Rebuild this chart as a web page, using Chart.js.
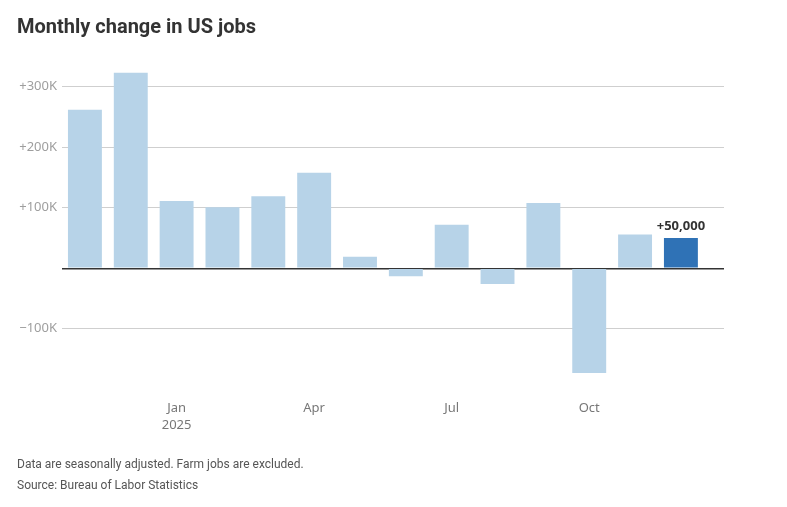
<!DOCTYPE html>
<html><head><meta charset="utf-8">
<script src="https://cdn.jsdelivr.net/npm/chart.js@4"></script>
<style>
html,body{margin:0;padding:0;background:#fff;}
#wrap{position:relative;width:787px;height:507px;overflow:hidden;font-family:Roboto,sans-serif;}
#title{position:absolute;left:17px;top:15.5px;font-size:20px;line-height:20px;font-weight:700;color:#333;white-space:nowrap;}
.note{position:absolute;left:17px;font-size:12px;line-height:12px;color:#555;white-space:nowrap;}
canvas{position:absolute;left:0;top:0;}
</style></head><body>
<div id="wrap">
<canvas id="c" width="787" height="507"></canvas>
<div id="title">Monthly change in US jobs</div>
<div class="note" style="top:458.2px">Data are seasonally adjusted. Farm jobs are excluded.</div>
<div class="note" style="top:478.6px">Source: Bureau of Labor Statistics</div>
</div>
<script>
// Data
const months = ['Nov 2024','Dec 2024','Jan 2025','Feb 2025','Mar 2025','Apr 2025','May 2025','Jun 2025','Jul 2025','Aug 2025','Sep 2025','Oct 2025','Nov 2025','Dec 2025'];
const jobChange = [262000, 323000, 111000, 101000, 119000, 158000, 19000, -13000, 72000, -26000, 108000, -173000, 56000, 50000];
const xTickIndex = [2, 5, 8, 11];
const xTickLabels = [['Jan','2025'], 'Apr', 'Jul', 'Oct'];
const yTickValues = [-100000, 0, 100000, 200000, 300000];
const highlightLabel = '+50,000';

const lightBlue = '#b7d3e8';
const darkBlue = '#2f72b6';
const lastIdx = jobChange.length - 1;

const points = jobChange.map((v, i) => ({x: i, y: v}));

const labelPlugin = {
  id: 'lastLabel',
  afterDatasetsDraw(chart) {
    const el = chart.getDatasetMeta(0).data[lastIdx];
    const ctx = chart.ctx;
    ctx.save();
    ctx.font = '700 13px "Noto Sans"';
    ctx.fillStyle = '#333';
    ctx.textAlign = 'center';
    ctx.textBaseline = 'alphabetic';
    ctx.fillText(highlightLabel, el.x, el.y - 8);
    ctx.restore();
  }
};

new Chart(document.getElementById('c'), {
  type: 'bar',
  data: {
    datasets: [{
      label: 'Monthly change',
      data: points,
      backgroundColor: jobChange.map((v, i) => i === lastIdx ? darkBlue : lightBlue),
      borderWidth: 0,
      barPercentage: 0.74,
      categoryPercentage: 1.0
    }]
  },
  options: {
    responsive: false,
    animation: false,
    devicePixelRatio: 1,
    layout: {padding: {left: 0, right: 63, top: 56.5, bottom: 67.7}},
    plugins: {legend: {display: false}, tooltip: {enabled: false}, title: {display: false}},
    scales: {
      x: {
        type: 'linear',
        min: -0.5,
        max: 13.94,
        offset: false,
        grid: {display: false, drawTicks: false},
        border: {display: false},
        afterBuildTicks(scale) { scale.ticks = xTickIndex.map(v => ({value: v})); },
        afterFit(scale) { scale.height = 50; },
        ticks: {
          autoSkip: false,
          maxRotation: 0,
          padding: 11,
          color: '#777',
          font: {family: '"Noto Sans"', size: 13, lineHeight: 1.3},
          callback(value) { const k = xTickIndex.indexOf(value); return k >= 0 ? xTickLabels[k] : ''; }
        }
      },
      y: {
        min: -200000,
        max: 350000,
        afterBuildTicks(scale) { scale.ticks = yTickValues.map(v => ({value: v})); },
        afterFit(scale) { scale.width = 62; },
        grid: {
          drawTicks: false,
          color: ctx => ctx.tick && ctx.tick.value === 0 ? '#333' : '#cfcfcf',
          lineWidth: ctx => ctx.tick && ctx.tick.value === 0 ? 1.5 : 1
        },
        border: {display: false},
        ticks: {
          padding: 5,
          color: '#9e9e9e',
          font: {family: '"Noto Sans"', size: 13},
          callback(v) {
            if (v === 0) return '';
            return (v > 0 ? '+' : '\u2212') + Math.abs(v / 1000) + 'K';
          }
        }
      }
    }
  },
  plugins: [labelPlugin]
});
</script>
</body></html>
